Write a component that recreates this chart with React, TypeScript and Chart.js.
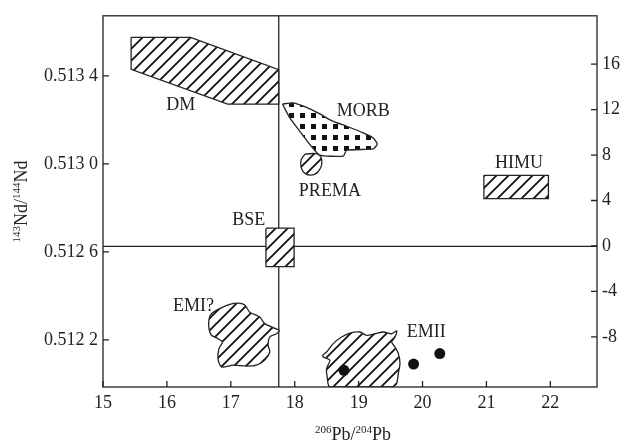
import { useEffect, useRef } from "react";
import { Chart, registerables } from "chart.js";

Chart.register(...registerables);

// axis ticks
const xTicks = [15, 16, 17, 18, 19, 20, 21, 22];
const ndTicks = [0.5122, 0.5126, 0.513, 0.5134];
const epsTicks = [-8, -4, 0, 4, 8, 12, 16];

const xRange = [15, 22.73];
const ndRange = [0.511986, 0.513673];
const epsRange = [-12.41, 20.25];

// reference lines (BSE / CHUR)
const bseLineX = 17.75;
const churLineNd = 0.512625;

// mantle end-member fields, [206Pb/204Pb, 143Nd/144Nd]
const dmField = [
  [15.44, 0.513575], [16.37, 0.513575], [17.75, 0.513428], [17.75, 0.513272],
  [16.95, 0.513272], [15.44, 0.51343], [15.44, 0.513575],
];
const morbField = [
  [17.809, 0.513272], [17.97, 0.513277], [18.185, 0.513257], [18.393, 0.513227],
  [18.577, 0.513197], [18.812, 0.513171], [19.072, 0.513141], [19.229, 0.513118],
  [19.292, 0.51309], [19.229, 0.513068], [18.812, 0.513062], [18.759, 0.513035],
  [18.393, 0.51304], [18.237, 0.513088], [18.08, 0.513148], [17.923, 0.513209],
  [17.809, 0.513272],
];
const premaField = [
  [18.158, 0.513044], [18.362, 0.513044], [18.425, 0.513008], [18.362, 0.512963],
  [18.237, 0.512949], [18.127, 0.512967], [18.096, 0.513013], [18.158, 0.513044],
];
const himuField = [
  [20.96, 0.512948], [21.97, 0.512948], [21.97, 0.512842], [20.96, 0.512842], [20.96, 0.512948],
];
const bseField = [
  [17.55, 0.512708], [17.99, 0.512708], [17.99, 0.512533], [17.55, 0.512533], [17.55, 0.512708],
];
const em1Field = [
  [17.766, 0.512243], [17.715, 0.512228], [17.61, 0.512213], [17.583, 0.512176],
  [17.61, 0.512145], [17.531, 0.512108], [17.401, 0.512085], [17.245, 0.512081],
  [17.034, 0.512085], [16.853, 0.512077], [16.799, 0.512115], [16.815, 0.512161],
  [16.868, 0.51219], [16.799, 0.512206], [16.696, 0.512221], [16.658, 0.512251],
  [16.658, 0.512292], [16.696, 0.512319], [16.826, 0.512342], [16.983, 0.512361],
  [17.113, 0.512367], [17.218, 0.512359], [17.296, 0.512326], [17.453, 0.512304],
  [17.531, 0.512274], [17.766, 0.512243],
];
const em2Field = [
  [19.542, 0.511986], [18.55, 0.511986], [18.508, 0.512032], [18.498, 0.51207],
  [18.55, 0.512108], [18.445, 0.512123], [18.436, 0.51213], [18.498, 0.512145],
  [18.602, 0.512183], [18.734, 0.512213], [18.864, 0.512231], [19.02, 0.512236],
  [19.125, 0.512221], [19.255, 0.512228], [19.386, 0.512236], [19.517, 0.512228],
  [19.596, 0.512241], [19.569, 0.512213], [19.517, 0.51219], [19.569, 0.512168],
  [19.621, 0.512138], [19.647, 0.512093], [19.621, 0.512047], [19.596, 0.512002],
  [19.542, 0.511986],
];

const fieldNames = ["DM", "MORB", "PREMA", "HIMU", "BSE", "EMI?", "EMII"];
const fieldLabelX = [16.215, 19.072, 18.55, 21.508, 17.281, 16.415, 20.058];
const fieldLabelY = [0.513266, 0.51324, 0.512877, 0.513001, 0.512746, 0.512352, 0.512233];

// samples
const sampleX = [18.77, 19.86, 20.27];
const sampleY = [0.512062, 0.51209, 0.512138];

const INK = "#222";
const SERIF = "'Liberation Serif', 'Times New Roman', serif";
const TICK = 6;

const toPts = (f: number[][]) => f.map(([x, y]) => ({ x, y }));

function hatch(): CanvasPattern {
  const s = 12;
  const c = document.createElement("canvas");
  c.width = s;
  c.height = s;
  const g = c.getContext("2d")!;
  g.fillStyle = "#fff";
  g.fillRect(0, 0, s, s);
  g.strokeStyle = "#111";
  g.lineWidth = 1.8;
  g.beginPath();
  g.moveTo(-2, s + 2);
  g.lineTo(s + 2, -2);
  g.moveTo(-2, 2);
  g.lineTo(2, -2);
  g.moveTo(s - 2, s + 2);
  g.lineTo(s + 2, s - 2);
  g.stroke();
  return g.createPattern(c, "repeat")!;
}

function dots(): CanvasPattern {
  const s = 11;
  const c = document.createElement("canvas");
  c.width = s;
  c.height = s;
  const g = c.getContext("2d")!;
  g.fillStyle = "#fff";
  g.fillRect(0, 0, s, s);
  g.fillStyle = "#111";
  g.fillRect(3, 3, 5, 5);
  return g.createPattern(c, "repeat")!;
}

// text with superscripts: [text, isSup]
function drawSup(ctx: CanvasRenderingContext2D, parts: [string, boolean][], cx: number, base: number) {
  const big = `18px ${SERIF}`;
  const small = `11px ${SERIF}`;
  let w = 0;
  parts.forEach(([t, sup]) => {
    ctx.font = sup ? small : big;
    w += ctx.measureText(t).width;
  });
  let x = cx - w / 2;
  ctx.textAlign = "left";
  ctx.textBaseline = "alphabetic";
  parts.forEach(([t, sup]) => {
    ctx.font = sup ? small : big;
    ctx.fillText(t, x, sup ? base - 7 : base);
    x += ctx.measureText(t).width;
  });
}

const overlay = {
  id: "overlay",
  afterDraw(chart: any) {
    const { ctx, chartArea: a, scales } = chart;
    const sx = scales.x;
    const sy = scales.y;
    const se = scales.eps;
    ctx.save();
    ctx.strokeStyle = INK;
    ctx.lineWidth = 1.3;
    ctx.strokeRect(a.left, a.top, a.right - a.left, a.bottom - a.top);

    ctx.beginPath();
    sx.ticks.forEach((t: any) => {
      const p = sx.getPixelForValue(t.value);
      ctx.moveTo(p, a.bottom);
      ctx.lineTo(p, a.bottom - TICK);
    });
    sy.ticks.forEach((t: any) => {
      const p = sy.getPixelForValue(t.value);
      ctx.moveTo(a.left, p);
      ctx.lineTo(a.left + TICK, p);
    });
    se.ticks.forEach((t: any) => {
      const p = se.getPixelForValue(t.value);
      ctx.moveTo(a.right, p);
      ctx.lineTo(a.right - TICK, p);
    });
    ctx.stroke();

    ctx.fillStyle = INK;
    ctx.font = `18px ${SERIF}`;
    ctx.textAlign = "center";
    ctx.textBaseline = "middle";
    fieldNames.forEach((n, i) => {
      ctx.fillText(n, sx.getPixelForValue(fieldLabelX[i]), sy.getPixelForValue(fieldLabelY[i]));
    });

    drawSup(ctx, [["206", true], ["Pb/", false], ["204", true], ["Pb", false]], (a.left + a.right) / 2 + 3, 440);

    ctx.translate(27, (a.top + a.bottom) / 2);
    ctx.rotate(-Math.PI / 2);
    drawSup(ctx, [["143", true], ["Nd/", false], ["144", true], ["Nd", false]], 0, 0);
    ctx.restore();
  },
};

const noGrid = { display: false, drawTicks: false, tickLength: 0 };

const App = () => {
  const canvasRef = useRef<HTMLCanvasElement | null>(null);

  useEffect(() => {
    document.body.style.margin = "0";
    if (!canvasRef.current) return;
    const hatchFill = hatch();
    const dotFill = dots();

    const field = (f: number[][], bg: CanvasPattern, tension = 0) => ({
      type: "line" as const,
      data: toPts(f),
      fill: "shape",
      backgroundColor: bg,
      borderColor: INK,
      borderWidth: 1.3,
      tension,
      pointRadius: 0,
      pointHoverRadius: 0,
      order: 2,
    });

    const refLine = (pts: { x: number; y: number }[]) => ({
      type: "line" as const,
      data: pts,
      borderColor: INK,
      borderWidth: 1.3,
      pointRadius: 0,
      fill: false,
      order: 3,
    });

    const chart = new Chart(canvasRef.current, {
      type: "scatter",
      data: {
        datasets: [
          {
            data: sampleX.map((x, i) => ({ x, y: sampleY[i] })),
            backgroundColor: "#111",
            borderWidth: 0,
            pointRadius: 5.5,
            order: 1,
          },
          field(dmField, hatchFill),
          field(morbField, dotFill, 0.15),
          field(premaField, hatchFill, 0.4),
          field(himuField, hatchFill),
          field(bseField, hatchFill),
          field(em1Field, hatchFill, 0.25),
          field(em2Field, hatchFill, 0.25),
          refLine([{ x: bseLineX, y: ndRange[0] }, { x: bseLineX, y: ndRange[1] }]),
          refLine([{ x: xRange[0], y: churLineNd }, { x: xRange[1], y: churLineNd }]),
        ] as any,
      },
      plugins: [overlay],
      options: {
        animation: false,
        responsive: true,
        maintainAspectRatio: false,
        events: [],
        layout: { padding: { top: 14, left: 0, right: 0, bottom: 0 } },
        font: { family: SERIF },
        plugins: { legend: { display: false }, tooltip: { enabled: false } },
        scales: {
          x: {
            type: "linear",
            min: xRange[0],
            max: xRange[1],
            grid: noGrid,
            border: { display: false },
            afterBuildTicks: (s: any) => {
              s.ticks = xTicks.map((v) => ({ value: v }));
            },
            afterFit: (s: any) => {
              s.height = 57;
            },
            ticks: {
              autoSkip: false,
              maxRotation: 0,
              padding: 5,
              color: INK,
              font: { family: SERIF, size: 18 },
              callback: (v: any) => String(v),
            },
          },
          y: {
            type: "linear",
            position: "left",
            min: ndRange[0],
            max: ndRange[1],
            grid: noGrid,
            border: { display: false },
            afterBuildTicks: (s: any) => {
              s.ticks = ndTicks.map((v) => ({ value: v }));
            },
            afterFit: (s: any) => {
              s.width = 103;
            },
            ticks: {
              autoSkip: false,
              padding: 5,
              color: INK,
              font: { family: SERIF, size: 18 },
              callback: (v: any) => {
                const s = Number(v).toFixed(4);
                return s.slice(0, 5) + " " + s.slice(5);
              },
            },
          },
          eps: {
            type: "linear",
            position: "right",
            min: epsRange[0],
            max: epsRange[1],
            grid: noGrid,
            border: { display: false },
            afterBuildTicks: (s: any) => {
              s.ticks = epsTicks.map((v) => ({ value: v }));
            },
            afterFit: (s: any) => {
              s.width = 26;
            },
            ticks: {
              autoSkip: false,
              padding: 5,
              color: INK,
              font: { family: SERIF, size: 18 },
              callback: (v: any) => String(v),
            },
          },
        },
      } as any,
    });

    return () => chart.destroy();
  }, []);

  return (
    <div style={{ width: 623, height: 444, position: "relative", background: "#fff" }}>
      <canvas ref={canvasRef}></canvas>
    </div>
  );
};

export default App;
